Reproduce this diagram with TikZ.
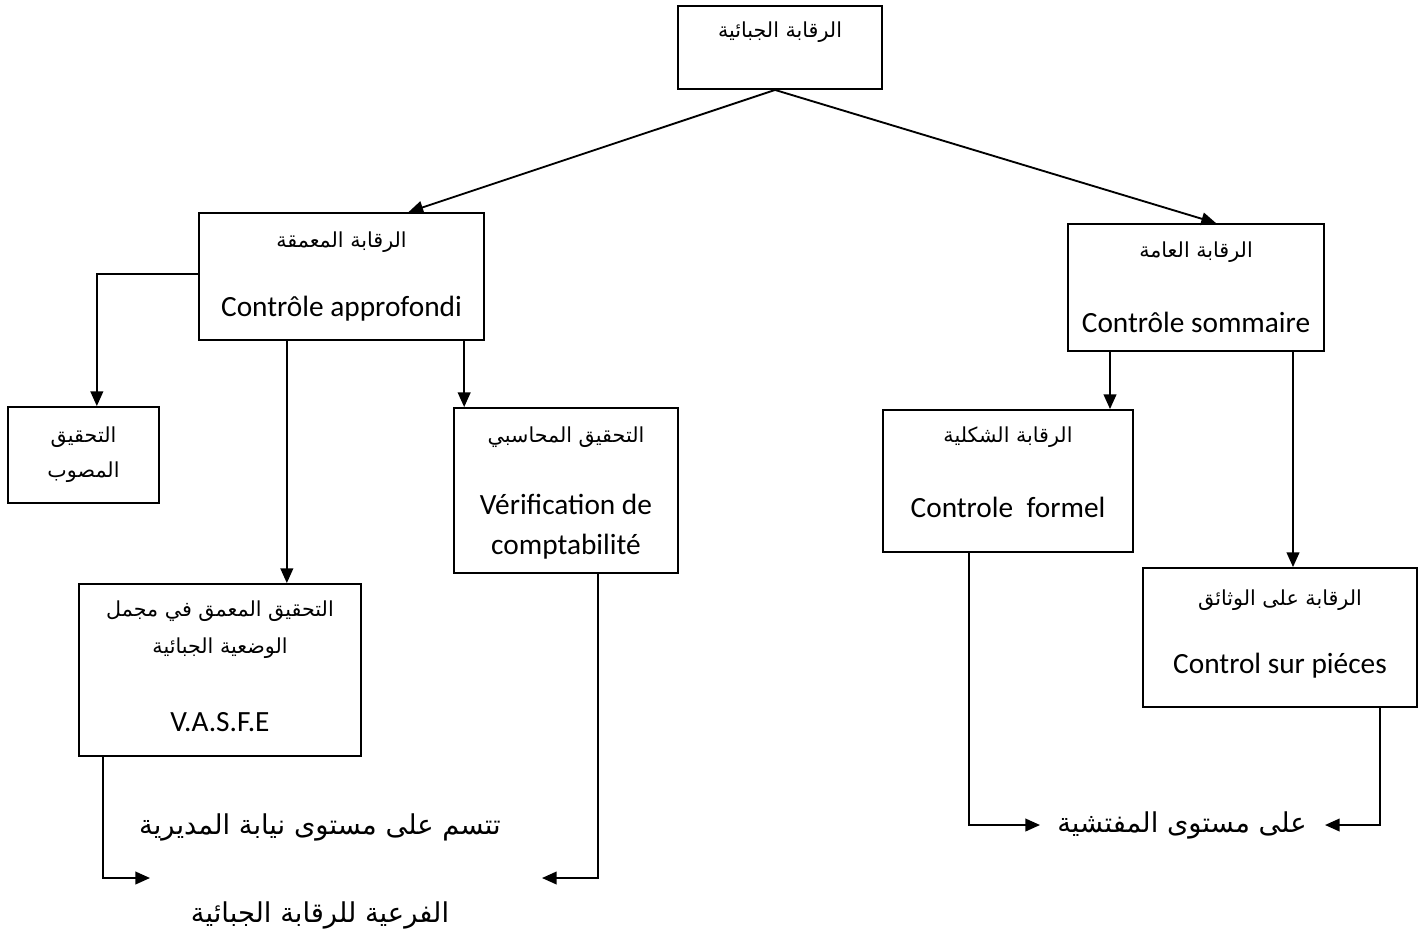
\documentclass[tikz,border=0pt]{standalone}
\usepackage{fontspec}
\setmainfont{Carlito}
\newfontfamily\arabicfont[Script=Arabic]{DejaVu Sans}
\TeXXeTstate=1
\usetikzlibrary{arrows.meta,calc}
\newcommand{\ar}[1]{{\arabicfont\beginR #1\endR}}
\tikzset{
  box/.style={draw, line width=1.4pt, rectangle, inner sep=0pt},
  lat/.style={font=\fontsize{22}{26}\selectfont, inner sep=0pt},
  arb/.style={font=\fontsize{15.5}{19}\selectfont, inner sep=0pt},
  big/.style={font=\fontsize{20.5}{25}\selectfont, inner sep=0pt},
  conn/.style={line width=1.4pt, -{Triangle[length=11pt,width=9.5pt]}},
}
\begin{document}
\begin{tikzpicture}[x=0.75pt,y=-0.75pt]
\useasboundingbox (0,0) rectangle (1427,940);
% boxes
\node[box, minimum width=153pt, minimum height=62.25pt] (top) at (780,47.5) {};
\node[box, minimum width=213.75pt, minimum height=95.25pt] (appr) at (341.5,276.5) {};
\node[box, minimum width=192pt, minimum height=95.25pt] (gen) at (1196,287.5) {};
\node[box, minimum width=113.25pt, minimum height=72pt] (mos) at (83.5,455) {};
\node[box, minimum width=168pt, minimum height=123.75pt] (verif) at (566,490.5) {};
\node[box, minimum width=211.5pt, minimum height=129pt] (vasfe) at (220,670) {};
\node[box, minimum width=187.5pt, minimum height=106.5pt] (formel) at (1008,481) {};
\node[box, minimum width=205.5pt, minimum height=104.25pt] (pieces) at (1280,637.5) {};
% texts
\node[arb] (t1) at (780,32) {\ar{الرقابة الجبائية}};
\node[arb] (t2) at (341.5,242) {\ar{الرقابة المعمقة}};
\node[lat] (t3) at (341.5,309) {Contrôle approfondi};
\node[arb] (t4) at (1196,252) {\ar{الرقابة العامة}};
\node[lat] (t5) at (1196,322) {Contrôle sommaire};
\node[arb] (t6) at (83.5,437) {\ar{التحقيق}};
\node[arb] (t7) at (83.5,472) {\ar{المصوب}};
\node[arb] (t8) at (566,437) {\ar{التحقيق المحاسبي}};
\node[lat] (t9) at (566,504) {Vérification de};
\node[lat] (t10) at (566,547) {comptabilité};
\node[arb] (t11) at (220,611) {\ar{التحقيق المعمق في مجمل}};
\node[arb] (t12) at (220,648) {\ar{الوضعية الجبائية}};
\node[lat] (t13) at (220,722) {V.A.S.F.E};
\node[arb] (t14) at (1008,437) {\ar{الرقابة الشكلية}};
\node[lat] (t15) at (1008,507) {Controle\ \ formel};
\node[arb] (t16) at (1280,600) {\ar{الرقابة على الوثائق}};
\node[lat] (t17) at (1280,666) {Control sur piéces};
\node[big] (b1) at (320,827) {\ar{تتسم على مستوى نيابة المديرية}};
\node[big] (b2) at (320,915) {\ar{الفرعية للرقابة الجبائية}};
\node[big] (b3) at (1182,825) {\ar{على مستوى المفتشية}};
% free ends
\coordinate (e1) at (150,878);
\coordinate (e2) at (542,878);
\coordinate (e3) at (1040,825);
\coordinate (e4) at (1325,825);
% connectors
\draw[conn] ([xshift=-3.75pt]top.south) -- ([xshift=50.25pt]appr.north);
\draw[conn] ([xshift=-3.75pt]top.south) -- ([xshift=15pt]gen.north);
\draw[conn] ([yshift=2pt]appr.west) -| ([xshift=10pt]mos.north);
\draw[conn] ([xshift=-41pt]appr.south) -- ([xshift=-41pt]appr.south |- vasfe.north);
\draw[conn] ([xshift=92pt]appr.south) -- ([xshift=92pt]appr.south |- verif.north);
\draw[conn] ([xshift=-64.5pt]gen.south) -- ([xshift=-64.5pt]gen.south |- formel.north);
\draw[conn] ([xshift=72.75pt]gen.south) -- ([xshift=72.75pt]gen.south |- pieces.north);
\draw[conn] ([xshift=-87.75pt]vasfe.south) |- (e1);
\draw[conn] ([xshift=24pt]verif.south) |- (e2);
\draw[conn] ([xshift=-29.25pt]formel.south) |- (e3);
\draw[conn] ([xshift=75pt]pieces.south) |- (e4);
\end{tikzpicture}
\end{document}
